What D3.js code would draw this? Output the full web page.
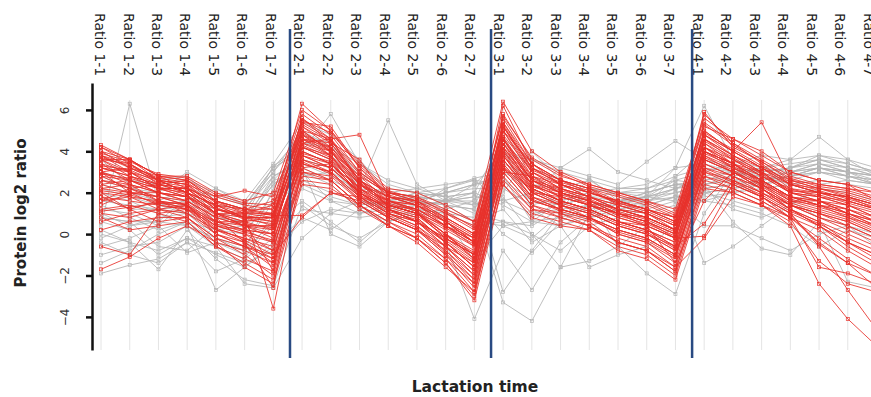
<!DOCTYPE html>
<html>
<head>
<meta charset="utf-8">
<script src="https://cdn.jsdelivr.net/npm/d3@7"></script>
<style>
    html, body { margin: 0; padding: 0; background: #fff; }
    svg { display: block; font-family: 'DejaVu Sans', sans-serif; }
</style>
</head>
<body>
<svg width="871" height="397"></svg>
<script>
const categories = [
    'Ratio 1-1', 'Ratio 1-2', 'Ratio 1-3', 'Ratio 1-4', 'Ratio 1-5', 'Ratio 1-6', 'Ratio 1-7',
    'Ratio 2-1', 'Ratio 2-2', 'Ratio 2-3', 'Ratio 2-4', 'Ratio 2-5', 'Ratio 2-6', 'Ratio 2-7',
    'Ratio 3-1', 'Ratio 3-2', 'Ratio 3-3', 'Ratio 3-4', 'Ratio 3-5', 'Ratio 3-6', 'Ratio 3-7',
    'Ratio 4-1', 'Ratio 4-2', 'Ratio 4-3', 'Ratio 4-4', 'Ratio 4-5', 'Ratio 4-6', 'Ratio 4-7',
]
const yTicks = [-4, -2, 0, 2, 4, 6]
// last category of each lactation stage, separator drawn after it
const stageEnds = ['Ratio 1-7', 'Ratio 2-7', 'Ratio 3-7']

// protein profiles, highlighted cluster (red)
const redProfiles = [
    [3.8, 3.2, 2.6, 2.4, 1.2, 0.9, 0.6, 5.6, 4.6, 2.4, 1.6, 1.1, 0.0, -1.2, 5.2, 3.0, 2.2, 1.8, 1.2, 0.8, 0.2, 4.8, 3.8, 3.0, 2.1, 2.0, 1.6, 1.2],
    [4.3, 3.6, 2.8, 2.6, 1.8, 1.4, 1.2, 6.3, 5.0, 3.2, 1.8, 1.6, 0.6, -0.4, 6.2, 3.4, 2.4, 2.0, 1.5, 1.2, 0.6, 5.9, 4.2, 3.5, 2.6, 2.2, 1.9, 1.5],
    [3.2, 2.8, 2.2, 1.8, 0.6, 0.2, 0.0, 4.6, 3.8, 2.0, 1.2, 0.8, -0.4, -1.6, 4.4, 2.2, 1.6, 1.2, 0.6, 0.2, -0.6, 4.2, 3.4, 2.6, 1.8, 1.4, 1.2, 0.6],
    [2.6, 2.4, 2.0, 1.6, 0.8, 0.4, 0.4, 4.0, 3.4, 2.2, 1.4, 1.0, 0.2, -0.6, 3.8, 2.0, 1.8, 1.4, 1.0, 0.6, 0.0, 3.6, 3.0, 2.4, 1.6, 1.6, 1.0, 0.4],
    [3.6, 3.4, 2.4, 2.0, 1.4, 1.0, 1.0, 5.2, 4.4, 2.6, 1.8, 1.4, 0.4, -0.2, 5.4, 3.2, 2.6, 2.2, 1.4, 1.0, 0.4, 5.0, 4.0, 3.2, 2.4, 2.2, 2.0, 1.6],
    [1.8, 1.6, 1.4, 1.2, 0.2, -0.2, -0.6, 3.4, 3.0, 1.8, 1.0, 0.4, -0.8, -2.2, 3.2, 1.6, 1.2, 0.8, 0.0, -0.4, -1.4, 3.0, 2.6, 2.0, 1.2, 0.6, -0.4, -1.0],
    [4.0, 3.6, 2.8, 2.6, 1.6, 1.2, 1.6, 5.8, 4.8, 3.0, 2.0, 1.8, 1.0, 0.4, 5.8, 3.6, 2.8, 2.4, 2.0, 1.6, 1.0, 5.4, 4.4, 3.6, 2.8, 2.4, 2.2, 2.0],
    [0.6, 1.0, 1.2, 1.4, 0.0, -0.4, -1.2, 3.0, 2.8, 1.6, 0.8, 0.2, -1.0, -2.6, 2.8, 1.2, 1.0, 0.6, -0.4, -0.8, -1.8, 2.6, 2.2, 1.6, 0.8, -0.2, -1.2, -2.0],
    [3.4, 3.0, 2.2, 2.2, 1.0, 0.6, 0.8, 4.8, 4.2, 2.8, 1.6, 1.2, 0.4, -0.4, 4.6, 2.6, 2.2, 1.6, 1.2, 1.0, 0.4, 4.6, 3.6, 2.8, 2.2, 1.8, 1.4, 1.0],
    [-0.6, -1.0, 1.0, 1.2, 0.4, 0.2, 0.0, 3.6, 3.2, 2.0, 1.2, 0.6, -0.2, -1.0, 3.4, 1.8, 1.4, 1.0, 0.4, 0.0, -0.8, 3.4, 2.8, 2.0, 1.4, 0.8, 0.2, -0.4],
    [2.2, 2.0, 1.8, 1.6, 0.6, 0.6, 0.2, 4.2, 3.6, 1.8, 1.0, 0.6, -0.4, -1.4, 4.0, 2.4, 1.6, 1.2, 0.6, 0.2, -0.4, 3.8, 3.2, 2.6, 1.6, 1.2, 0.8, 0.4],
    [3.0, 2.6, 2.0, 1.8, 1.2, 0.8, 0.4, 4.4, 4.6, 2.6, 1.4, 1.0, -0.2, -1.0, 4.2, 2.6, 2.0, 1.4, 1.0, 0.4, -0.2, 4.0, 3.4, 3.0, 2.0, 1.6, 1.4, 0.8],
    [-1.7, -1.1, -0.2, 0.4, -0.4, -1.6, -2.4, 2.4, 2.2, 1.4, 0.4, -0.2, -1.4, -3.2, 2.4, 0.8, 0.4, 0.2, -0.8, -1.2, -2.2, 2.2, 2.0, 1.4, 0.6, -1.3, -2.4, -2.8],
    [3.6, 2.8, 2.4, 2.2, 1.6, 1.2, 1.0, 5.0, 4.0, 2.2, 1.6, 1.4, 0.8, 0.0, 5.0, 3.0, 2.4, 2.0, 1.6, 1.2, 0.8, 4.6, 3.8, 3.2, 2.6, 2.4, 2.2, 1.8],
    [2.8, 2.2, 1.6, 1.0, 0.2, -0.4, -1.4, 3.8, 3.2, 2.0, 1.0, 0.4, -0.6, -1.8, 3.6, 2.0, 1.4, 0.8, 0.2, -0.2, -1.0, 3.2, 2.8, 2.2, 1.2, 0.4, -0.6, -1.4],
    [4.2, 3.6, 2.6, 2.4, 1.8, 2.1, 1.8, 5.4, 4.6, 3.0, 2.0, 1.8, 1.2, 0.6, 5.6, 3.4, 2.6, 2.2, 1.8, 1.4, 0.8, 5.2, 4.6, 4.0, 3.0, 2.6, 2.4, 1.6],
    [1.2, 1.4, 1.0, 0.6, -0.6, -1.2, -1.8, 3.2, 2.6, 1.4, 0.6, 0.0, -1.2, -2.8, 3.0, 1.4, 1.0, 0.4, -0.2, -0.6, -1.6, 2.8, 2.4, 1.8, 1.0, -0.6, -2.7, -4.6],
    [3.0, 3.2, 2.6, 2.0, 1.4, 0.8, 0.6, 4.8, 3.8, 2.4, 1.8, 1.4, 0.6, -0.2, 4.8, 3.0, 2.2, 1.8, 1.4, 1.0, 0.2, 4.4, 3.6, 3.0, 2.4, 2.0, 1.8, 1.2],
    [2.0, 1.2, 0.6, 0.8, -0.2, -0.6, -1.0, 0.8, 2.0, 1.6, 0.8, 0.2, -0.6, -1.4, 3.2, 1.6, 1.2, 0.8, 0.2, -0.2, -1.0, 3.0, 2.4, 1.8, 1.0, 0.4, -0.4, -1.2],
    [3.8, 3.4, 2.6, 2.0, 1.0, 0.4, -0.2, 5.2, 4.2, 2.6, 1.4, 1.0, -0.2, -1.0, 5.0, 2.8, 2.0, 1.6, 1.0, 0.6, -0.2, 4.6, 3.8, 3.0, 2.0, 1.6, 1.0, 0.4],
    [2.4, 2.6, 2.2, 2.0, 1.0, 0.8, 1.0, 4.4, 3.8, 2.0, 1.4, 1.2, 0.6, -0.2, 4.4, 2.6, 2.0, 1.6, 1.2, 0.8, 0.2, 4.0, 3.4, 2.8, 2.0, 1.8, 1.6, 1.2],
    [1.6, 1.8, 1.6, 1.4, 0.4, 0.0, -0.4, 3.8, 3.4, 1.8, 1.0, 0.6, -0.4, -1.6, 3.6, 2.0, 1.4, 1.0, 0.4, 0.0, -0.6, 0.5, 2.6, 2.0, 1.2, 0.6, 0.0, -0.6],
    [3.2, 3.0, 2.4, 2.6, 1.6, 1.0, 1.4, 5.0, 4.0, 2.8, 2.0, 1.6, 1.0, 0.2, 5.0, 3.4, 2.6, 2.0, 1.6, 1.2, 0.8, 4.8, 4.0, 5.4, 2.6, 2.2, 1.8, 1.4],
    [0.2, 0.6, 0.8, 0.8, -0.4, -0.8, -1.4, 2.8, 2.6, 1.4, 0.6, -0.2, -1.2, -2.4, 2.6, 1.2, 0.8, 0.4, -0.4, -0.8, -1.6, -0.2, 1.8, 1.4, 0.8, -0.4, -1.4, -2.6],
    [4.0, 3.2, 2.8, 2.2, 1.2, 1.0, 0.8, 5.6, 4.4, 2.6, 1.6, 1.4, 0.6, -0.4, 5.2, 3.2, 2.4, 1.8, 1.2, 0.8, 0.2, 5.0, 4.0, 3.2, 2.2, 2.0, 1.8, 1.4],
    [2.6, 2.2, 1.8, 1.4, 0.4, 0.0, -0.8, 4.2, 3.6, 2.2, 1.2, 0.8, -0.4, -1.6, 4.0, 2.2, 1.6, 1.2, 0.6, 0.2, -0.4, 3.8, 3.0, 2.4, 1.4, 1.0, 0.6, 0.0],
    [3.4, 2.6, 2.0, 1.6, 0.8, -0.4, -2.6, 4.6, 4.0, 2.4, 1.4, 1.0, 0.0, -1.2, 4.6, 2.6, 1.8, 1.4, 0.8, 0.4, -0.2, 4.2, 3.2, 2.4, 1.6, 1.4, 1.0, 0.6],
    [2.8, 2.6, 2.2, 2.2, 1.6, 1.2, 0.9, 0.9, 2.0, 1.8, 1.4, 1.0, 0.4, -0.4, 4.2, 2.4, 2.0, 1.6, 1.0, 0.8, 0.2, 4.0, 3.2, 2.6, 1.8, 1.6, 1.2, 0.8],
    [1.0, 0.8, 1.2, 1.0, 0.0, -0.6, -1.6, 3.4, 3.0, 1.6, 0.8, 0.2, -1.0, -2.2, 3.4, 1.8, 1.2, 0.8, 0.0, -0.4, -1.2, 3.2, 2.6, 1.8, 0.8, -1.6, -1.9, -2.4],
    [3.6, 3.6, 2.8, 2.8, 2.0, 1.6, 2.0, 6.0, 5.0, 3.4, 2.2, 2.0, 1.4, 0.6, 6.4, 4.0, 3.0, 2.4, 2.0, 1.6, 1.2, 5.6, 4.6, 3.8, 3.0, 2.6, 2.4, 2.0],
    [3.0, 2.4, 1.6, 1.4, 0.2, -0.2, -0.8, 4.0, 3.4, 2.0, 1.2, 0.6, -0.6, -2.0, 3.8, 2.0, 1.4, 1.0, 0.4, 0.0, -0.8, 3.6, 3.0, 2.2, 1.4, 0.8, 0.4, -0.2],
    [1.4, 2.0, 2.0, 1.8, 0.8, 0.4, 0.4, 4.4, 4.0, 2.4, 1.6, 1.2, 0.4, -0.6, 4.4, 2.6, 2.0, 1.6, 1.0, 0.6, 0.0, 4.0, 3.4, 2.6, 1.8, 1.4, 1.0, 0.6],
    [3.8, 3.0, 2.2, 1.8, 1.0, 0.6, -1.8, 4.8, 4.0, 2.4, 1.4, 1.0, 0.0, -0.8, 4.6, 2.4, 1.8, 1.4, 1.0, 0.6, 0.0, 4.2, 3.4, 2.6, 1.8, 1.6, 1.2, 0.6],
    [2.4, 2.0, 1.4, 1.2, 0.0, -0.6, -1.2, 3.6, 3.0, 1.8, 0.8, 0.2, -0.8, -2.0, 3.6, 1.8, 1.2, 0.8, 0.2, -0.2, -1.0, 3.4, 2.8, 2.2, 1.2, 0.4, -0.4, -1.0],
    [4.2, 3.4, 2.6, 2.0, 1.4, 0.8, 0.8, 5.4, 5.2, 3.2, 2.0, 1.6, 0.8, 0.0, 5.4, 3.4, 2.6, 2.2, 1.6, 1.2, 0.6, 5.8, 4.4, 3.4, 2.4, 2.0, 1.8, 1.4],
    [1.8, 1.2, 1.6, 1.2, 0.6, 0.2, -0.4, 3.8, 3.2, 2.0, 1.2, 0.6, -0.2, -1.2, 3.8, 2.2, 1.6, 1.2, 0.6, 0.2, -0.6, 3.6, 3.0, 2.2, 1.4, 1.0, 0.6, 0.0],
    [3.2, 2.8, 2.4, 2.2, 1.2, 0.8, 0.8, 4.6, 4.4, 3.6, 1.6, 1.2, 0.4, -0.4, 4.6, 2.8, 2.2, 1.8, 1.2, 0.8, 0.2, 4.2, 3.6, 2.8, 2.0, 1.8, 1.4, 0.8],
    [2.0, 1.8, 1.2, 0.8, -0.2, -1.0, -2.0, 3.0, 2.6, 1.4, 0.4, -0.2, -1.4, -3.0, 3.0, 1.4, 0.8, 0.4, -0.4, -0.8, -1.8, 2.8, 2.2, 1.6, 0.8, 0.2, -0.8, -1.6],
    [3.6, 3.0, 2.6, 2.4, 1.4, 1.2, 1.2, 5.0, 4.6, 4.8, 1.8, 1.6, 0.8, 0.0, 5.2, 3.2, 2.4, 2.0, 1.6, 1.2, 0.6, 4.8, 4.0, 3.2, 2.4, 2.0, 1.6, 1.2],
    [2.2, 2.4, 2.0, 1.8, 1.0, 0.4, 0.2, 4.2, 3.8, 2.2, 1.4, 1.0, 0.0, -1.0, 4.2, 2.4, 1.8, 1.4, 0.8, 0.4, -0.2, -0.1, 2.4, 1.8, 1.0, -0.5, -1.4, -2.0],
    [3.0, 2.0, 1.8, 1.4, 0.6, 0.4, 0.0, 4.6, 4.2, 2.6, 1.8, 1.4, 0.6, -0.4, 3.0, 2.8, 2.4, 1.8, 1.4, 1.0, 0.4, 4.4, 3.4, 2.4, 1.8, 1.4, 0.8, 0.2],
    [0.8, 0.2, 0.4, 0.6, -0.6, -1.4, -2.2, 2.6, 2.4, 1.2, 0.4, -0.4, -1.6, -2.8, 2.4, 1.0, 0.6, 0.2, -0.6, -1.0, -2.0, 2.4, 2.0, 1.4, 0.4, -2.4, -4.1, -5.4],
    [1.6, 2.2, 2.4, 2.0, 1.0, 1.0, -3.6, 3.2, 3.4, 2.0, 1.2, 0.6, -0.6, -1.8, 3.2, 2.2, 1.6, 1.2, 0.6, 0.4, -1.4, 1.6, 3.0, 2.2, 1.4, 1.0, 0.4, -0.2],
    [3.9, 3.5, 2.9, 2.7, 1.9, 1.5, 1.4, 5.5, 4.9, 3.3, 2.1, 1.7, 1.1, 0.3, 5.7, 3.7, 2.9, 2.3, 1.9, 1.5, 0.9, 5.3, 4.3, 3.5, 2.7, 2.3, 2.1, 1.7],
    [2.9, 2.7, 2.3, 1.9, 0.9, 0.5, 0.3, 4.3, 3.7, 2.1, 1.3, 0.9, -0.1, -0.9, 4.1, 2.3, 1.9, 1.5, 0.9, 0.5, -0.1, 3.9, 3.3, 2.5, 1.7, 1.3, 0.9, 0.3],
    [3.3, 3.1, 2.5, 2.3, 1.3, 0.7, 0.5, 4.9, 4.1, 2.5, 1.5, 1.1, 0.3, -0.5, 4.7, 2.7, 2.1, 1.7, 1.1, 0.7, 0.1, 4.5, 3.7, 2.9, 2.1, 1.9, 1.5, 1.1],
    [2.1, 1.9, 1.5, 1.3, 0.3, -0.3, -1.0, 3.5, 2.9, 1.7, 0.9, 0.3, -0.9, -2.4, 3.3, 1.7, 1.1, 0.7, 0.1, -0.3, -1.1, 3.1, 2.5, 1.9, 1.1, 0.5, -0.2, -0.8],
    [3.7, 3.3, 2.7, 2.5, 1.5, 1.1, 0.9, 5.3, 4.5, 2.9, 1.9, 1.5, 0.7, -0.1, 5.3, 3.1, 2.5, 2.1, 1.5, 1.1, 0.5, 4.9, 4.1, 3.3, 2.5, 2.1, 1.7, 1.3],
    [1.1, 1.3, 1.5, 1.5, 0.5, 0.1, -0.3, 3.9, 3.5, 1.9, 1.1, 0.7, -0.3, -1.3, 3.9, 2.1, 1.5, 1.1, 0.5, 0.1, -0.7, 3.7, 3.1, 2.3, 1.5, 1.1, 0.7, 0.1],
]

// remaining protein profiles (gray)
const grayProfiles = [
    [-1.9, -1.5, -1.2, -0.4, -0.9, -1.4, -0.8, 0.6, 1.2, 1.0, 1.4, 1.6, 1.2, 0.6, 0.4, -0.2, 1.0, 0.8, 1.2, 1.0, 1.4, 1.8, 2.0, 2.2, 2.4, 2.6, 2.4, 2.2],
    [0.4, 6.3, 1.6, 1.2, 0.8, 0.6, 2.4, 3.2, 2.6, 2.0, 2.2, 2.0, 1.8, 2.0, 1.4, 0.6, 1.6, 2.0, 1.6, 1.6, 2.0, 2.4, 2.6, 2.8, 3.2, 3.6, 3.2, 2.8],
    [0.0, -0.4, -1.7, 0.2, -1.2, -2.2, -2.5, 1.4, 0.4, -0.2, 0.6, 1.2, 1.6, 2.0, -2.8, -0.8, 1.0, 1.4, 1.4, 1.8, 2.0, 2.2, 2.4, 2.6, 2.8, 3.2, 2.8, 2.6],
    [1.2, 1.0, 0.4, 1.6, 2.2, 1.4, 3.2, 4.0, 5.8, 3.4, 2.6, 2.2, 1.8, 1.4, 4.0, 2.4, 2.2, 2.6, 1.8, 1.6, 2.2, 2.8, 3.0, 3.0, 3.2, 3.4, 3.0, 2.6],
    [-1.0, -0.6, -0.4, 0.4, -2.7, -1.6, -0.4, 2.4, 1.8, 1.4, 1.6, 2.0, 1.4, 0.6, 1.2, -0.4, 0.4, 0.8, 1.0, 1.4, 1.8, 2.0, 2.2, 2.4, 2.6, 3.0, 2.8, 2.4],
    [0.8, 0.6, -0.6, -0.8, 0.4, 0.6, 2.8, 3.6, 3.2, 1.8, 1.2, 1.6, 2.0, 2.4, 3.8, 3.6, 3.2, 4.1, 3.0, 2.6, 2.2, 2.6, 3.0, 3.2, 3.4, 3.6, 3.4, 3.0],
    [2.0, 1.6, 1.0, 0.4, -0.2, -0.6, 1.6, 2.8, 3.0, 2.2, 5.5, 2.4, 1.6, 1.0, 0.6, 0.0, -1.6, -1.3, -0.6, 0.4, 1.2, 1.6, 2.0, 2.4, 2.8, 3.2, 3.0, 2.4],
    [-0.6, -0.2, 0.4, -0.9, -0.4, -0.8, 2.2, 4.4, 4.2, 3.0, 2.0, 1.8, 1.6, 1.4, 2.0, 4.0, 2.6, 2.0, 1.6, 1.4, 2.8, 4.0, 3.2, 2.6, 3.0, 3.4, 3.2, 2.8],
    [2.8, 2.2, 2.0, 3.0, 2.2, 1.6, 3.4, 5.4, 4.8, 3.6, 2.0, 1.6, 1.4, 1.2, -3.3, -4.2, -1.6, 1.0, 1.6, 2.0, 2.4, 2.6, 2.8, 3.0, 3.2, 3.6, 3.2, 3.0],
    [0.6, 0.2, -1.0, -0.2, -0.6, -2.4, -2.6, -0.2, 1.0, 1.6, 1.2, 0.8, -0.4, -4.1, -0.8, -2.7, -0.4, 0.8, 1.2, 1.6, 1.8, 2.0, 2.2, 2.6, 2.8, 3.0, 2.6, 2.4],
    [1.6, 1.4, 1.2, 1.0, 0.2, 0.4, 2.6, 4.0, 3.4, 2.6, 1.8, 1.4, 2.2, 2.6, 1.6, 2.0, 3.2, 2.8, 2.4, 3.5, 4.5, 3.6, 3.2, 3.0, 3.2, 3.8, 3.6, 3.2],
    [3.6, 2.4, 1.4, 1.0, -0.2, -0.8, 0.6, 2.2, 1.6, 1.0, 1.2, 1.4, 1.6, 1.8, 1.8, 0.0, -0.8, 0.4, 0.8, 1.2, 1.6, 2.2, 2.4, 2.6, 3.0, 3.4, 3.0, 2.8],
    [-0.4, -1.0, -1.4, -0.4, -1.8, -1.2, 1.0, 3.0, 2.4, 1.2, 1.6, 2.0, 2.2, 2.7, 3.0, 2.2, 1.4, 1.8, 1.6, 1.8, 2.6, 2.4, 2.8, 3.2, 3.6, 4.7, 3.6, 2.8],
    [4.0, 3.2, 2.6, 2.8, 1.6, 1.2, 3.0, 4.6, 3.8, 2.6, 1.8, 1.6, 1.4, 1.2, 3.4, 2.8, 2.0, 1.6, -0.6, -1.9, -2.9, 1.0, 3.0, 2.8, 2.4, 2.0, 1.8, 1.4],
    [1.0, 0.4, 0.6, 1.8, 1.4, 1.2, 2.8, 3.4, 2.8, 2.2, 2.0, 2.2, 2.4, 2.6, 2.4, 0.8, 1.6, 2.0, 2.2, 2.4, 3.2, 6.2, 3.6, 3.2, 3.0, 3.2, 3.0, 2.8],
    [-1.4, -0.8, 0.0, 0.6, -0.4, -1.0, 0.4, 1.6, 0.6, -0.4, 0.8, 1.2, 1.0, 0.4, 0.6, 0.4, 1.2, 2.7, 1.6, 1.8, 3.2, 3.4, 3.0, 2.6, 2.8, 3.0, 2.8, 2.6],
    [2.4, 2.0, 1.6, 2.2, 1.8, 1.4, 3.2, 4.8, 4.4, 2.8, 2.0, 1.8, 1.6, 1.6, 4.4, 3.2, 2.6, 2.2, 2.0, 1.8, 2.2, -1.4, -0.6, 0.4, 1.4, 2.2, 2.0, 1.6],
    [0.2, -0.4, -0.8, -0.2, -1.0, -1.6, -0.6, 0.8, 0.2, 1.2, 0.6, 1.0, 0.8, -1.3, 0.4, 0.6, 0.8, 1.2, 1.4, 1.8, 2.2, 2.4, 0.6, -0.7, -1.0, 0.6, -2.3, -2.6],
    [3.0, 2.6, 2.4, 2.6, 2.0, 1.4, 3.0, 5.0, 4.2, 3.4, 2.4, 2.0, 1.8, 2.0, 4.6, 3.6, 3.0, 2.6, 2.2, 2.2, 2.6, 3.0, 3.4, 3.8, 3.6, 3.8, 3.4, 3.0],
    [1.4, 0.8, 0.2, 0.6, 0.2, 0.0, 2.0, 2.6, 2.0, 1.6, 1.4, 1.8, 2.0, 2.2, 2.2, 1.4, 1.8, 2.2, 2.0, 2.0, 2.4, 2.2, 1.2, 0.8, 1.4, 2.4, 2.6, 2.4],
    [-0.2, 0.4, 0.8, 1.0, 0.6, 0.2, 1.6, 3.2, 0.0, -0.6, 0.6, 1.0, 1.2, 1.6, 0.0, -0.9, 0.6, 1.4, 1.6, 2.0, 2.4, 2.4, 2.6, 2.4, 2.8, 3.2, 2.8, 2.4],
    [2.6, 2.2, 1.8, 1.6, 1.2, 0.8, 3.3, 4.2, 3.6, 2.4, 1.8, 1.6, 2.0, 2.4, 2.6, 1.6, 1.4, 1.8, 2.0, 2.2, 2.8, 3.2, 3.0, 2.8, 3.0, 3.2, 3.0, 2.8],
    [0.8, 0.6, 0.6, 0.4, -0.6, -1.2, -0.2, 1.2, 1.0, 0.8, 1.0, 1.4, 1.6, 1.8, 1.6, 1.0, 1.2, 1.4, 1.6, 1.8, 1.6, 0.4, 0.4, -0.2, -0.8, 0.0, 0.4, -0.6],
    [2.2, 1.8, 1.4, 1.6, 0.8, 0.6, 2.4, 3.6, 3.2, 2.4, 1.4, 1.2, 1.0, 0.8, 4.2, 1.2, 0.4, -1.6, -1.0, -0.6, 0.4, 2.0, 1.6, 1.2, 1.6, 0.8, 0.4, 0.0],
    [1.8, 1.2, 1.2, 1.4, 1.0, 0.8, 2.6, 3.0, 1.6, 1.4, 1.6, 1.8, 1.6, 2.4, 2.8, 0.6, 0.4, 1.0, 1.2, 1.4, 1.8, 1.6, 1.4, 1.0, 0.4, -0.6, 0.2, -0.2],
]

const svg = d3.select('svg')
const plotTop = 83
const plotBottom = 350
const axisX = 92

const x = d3.scalePoint().domain(categories).range([101, 876.5])
// the header labels sit on a slightly tighter pitch than the grid
const xLabel = d3.scalePoint().domain(categories).range([100, 868.5])
const y = d3.scaleLinear().domain([-5.6, 7.3]).range([plotBottom, plotTop])
const step = x.step()

// vertical grid at every sampling point
svg.append('g')
    .attr('class', 'grid')
    .selectAll('line')
    .data(categories)
    .join('line')
    .attr('x1', d => x(d))
    .attr('x2', d => x(d))
    .attr('y1', 100)
    .attr('y2', plotBottom)
    .attr('stroke', '#e4e4e4')
    .attr('stroke-width', 1)

// category labels along the top
svg.append('g')
    .attr('class', 'cat-labels')
    .selectAll('text')
    .data(categories)
    .join('text')
    .attr('transform', d => `translate(${xLabel(d)}, 13) rotate(90)`)
    .attr('dy', '0.35em')
    .attr('font-size', 14)
    .attr('fill', '#222')
    .text(d => d)

const line = d3.line()
    .x((d, i) => x(categories[i]))
    .y(d => y(d))

const drawProfiles = (rows, color, cls) => {
    const g = svg.append('g').attr('class', cls)
    g.selectAll('path')
        .data(rows)
        .join('path')
        .attr('d', line)
        .attr('fill', 'none')
        .attr('stroke', color)
        .attr('stroke-width', 0.95)
        .attr('stroke-opacity', 0.9)

    const pts = rows.flatMap(r => r.map((v, i) => ({ c: categories[i], v })))
    g.selectAll('rect')
        .data(pts)
        .join('rect')
        .attr('x', d => x(d.c) - 1.5)
        .attr('y', d => y(d.v) - 1.5)
        .attr('width', 3)
        .attr('height', 3)
        .attr('fill', 'none')
        .attr('stroke', color)
        .attr('stroke-width', 0.7)
}

drawProfiles(grayProfiles, '#b4b4b4', 'gray-profiles')
drawProfiles(redProfiles, '#e8302a', 'red-profiles')

// stage separators
svg.append('g')
    .attr('class', 'separators')
    .selectAll('line')
    .data(stageEnds)
    .join('line')
    .attr('x1', d => x(d) + step * 0.58)
    .attr('x2', d => x(d) + step * 0.58)
    .attr('y1', 29)
    .attr('y2', 358)
    .attr('stroke', '#294a82')
    .attr('stroke-width', 2.5)

// y axis
const yAxis = d3.axisLeft(y).tickValues(yTicks).tickSizeOuter(0).tickSizeInner(6)
const yAxisG = svg.append('g')
    .attr('class', 'y-axis')
    .attr('transform', `translate(${axisX}, 0)`)
    .call(yAxis)

yAxisG.select('.domain').attr('stroke', '#111').attr('stroke-width', 2.5)
yAxisG.selectAll('.tick line').attr('stroke', '#111').attr('stroke-width', 2.5)
yAxisG.selectAll('.tick text')
    .attr('x', null)
    .attr('dy', null)
    .attr('transform', 'translate(-23, 0) rotate(-90)')
    .attr('text-anchor', 'middle')
    .attr('font-size', 12)
    .attr('font-family', 'DejaVu Sans, sans-serif')
    .attr('fill', '#333')

// axis titles
svg.append('text')
    .attr('transform', 'translate(26, 213) rotate(-90)')
    .attr('text-anchor', 'middle')
    .attr('font-size', 15)
    .attr('font-weight', 'bold')
    .attr('fill', '#222')
    .text('Protein log2 ratio')

svg.append('text')
    .attr('x', 475)
    .attr('y', 392)
    .attr('text-anchor', 'middle')
    .attr('font-size', 15.5)
    .attr('font-weight', 'bold')
    .attr('fill', '#222')
    .text('Lactation time')
</script>
</body>
</html>
